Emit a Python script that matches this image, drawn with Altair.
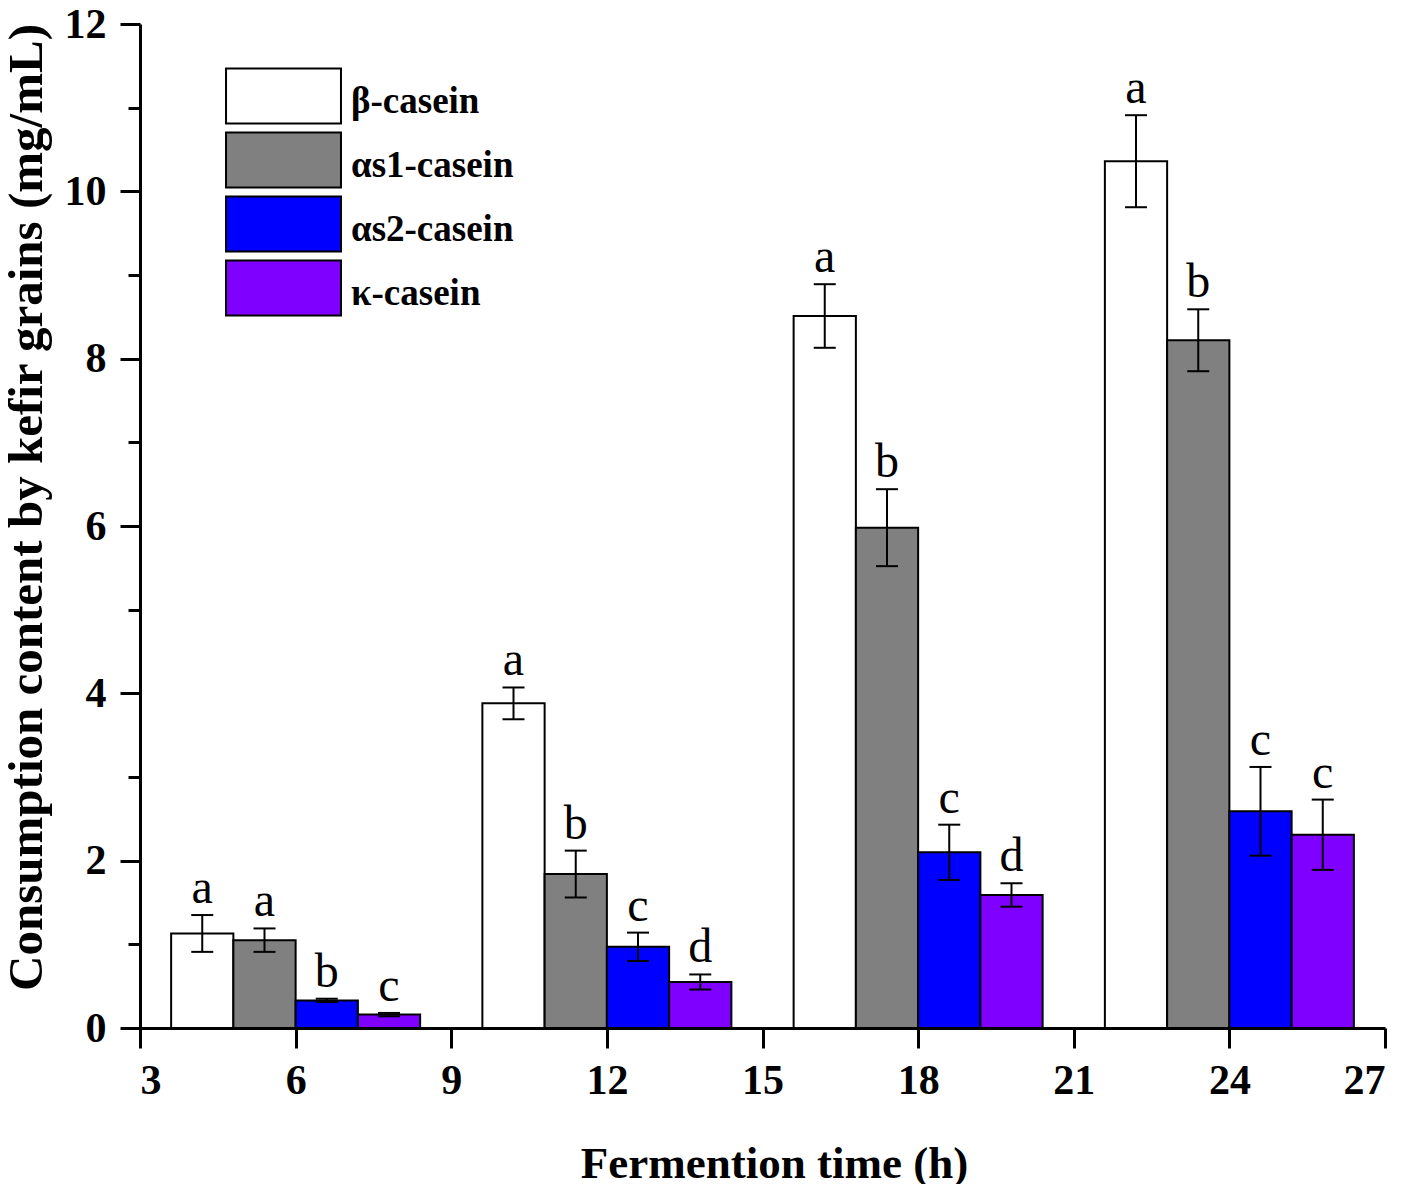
import altair as alt
import pandas as pd

# DATA ---------------------------------------------------
times = [6, 12, 18, 24]
caseins = ["β-casein", "αs1-casein", "αs2-casein", "κ-casein"]
colors = ["#ffffff", "#808080", "#0000ff", "#8000ff"]

beta_mean = [1.13, 3.88, 8.51, 10.36]
as1_mean = [1.05, 1.84, 5.98, 8.22]
as2_mean = [0.33, 0.97, 2.10, 2.59]
kappa_mean = [0.16, 0.55, 1.59, 2.31]

beta_sd = [0.22, 0.19, 0.38, 0.55]
as1_sd = [0.14, 0.28, 0.46, 0.37]
as2_sd = [0.02, 0.17, 0.33, 0.53]
kappa_sd = [0.02, 0.09, 0.14, 0.42]

beta_sig = ["a", "a", "a", "a"]
as1_sig = ["a", "b", "b", "b"]
as2_sig = ["b", "c", "c", "c"]
kappa_sig = ["c", "d", "d", "c"]

means = [beta_mean, as1_mean, as2_mean, kappa_mean]
sds = [beta_sd, as1_sd, as2_sd, kappa_sd]
sigs = [beta_sig, as1_sig, as2_sig, kappa_sig]

bar_w = 1.2  # hours per bar, 4 bars side by side
rows = []
for i, name in enumerate(caseins):
    for t, m, s, l in zip(times, means[i], sds[i], sigs[i]):
        mid = t + (i - 1.5) * bar_w
        rows.append(dict(casein=name, mid=mid, x0=mid - bar_w / 2, x1=mid + bar_w / 2,
                         mean=m, lo=m - s, hi=m + s, letter=l))
df = pd.DataFrame(rows)

# PLOTTING -----------------------------------------------
FONT = "Liberation Serif"
x_scale = alt.Scale(domain=[3, 27], nice=False, zero=False)
y_scale = alt.Scale(domain=[0, 12], nice=False)

x_axis = alt.Axis(values=list(range(3, 28, 3)), title="Fermention time (h)",
                  titleFontSize=45, titleX=634, titleY=149, titleBaseline="alphabetic",
                  labelPadding=12)
y_major = alt.Axis(values=[0, 2, 4, 6, 8, 10, 12], orient="left",
                   title="Consumption content by kefir grains (mg/mL)",
                   titleFontSize=49, titleX=-99, titleY=483, titleAngle=-90,
                   titleAlign="center", titleBaseline="alphabetic", labelPadding=14)
y_minor = alt.Axis(values=[1, 3, 5, 7, 9, 11], orient="left", title=None,
                   labels=False, domain=False, tickSize=12)

# box drawn a little above the label centre, as in the original key
legend = alt.Legend(title=None, orient="none", legendX=85, legendY=49, padding=0,
                    symbolType="M-2.09,-1.2H2.09V0.8H-2.09Z", symbolSize=3025,
                    symbolStrokeColor="black", symbolStrokeWidth=2, symbolOpacity=1,
                    labelFont=FONT, labelFontSize=37, labelFontWeight="bold",
                    labelColor="black", labelOffset=39, labelLimit=400,
                    symbolOffset=30, rowPadding=0)

bars = alt.Chart(df).mark_bar(stroke="black", strokeWidth=2, opacity=1).encode(
    x=alt.X("x0:Q", scale=x_scale, axis=x_axis),
    x2="x1:Q",
    y=alt.Y("mean:Q", scale=y_scale, axis=y_major),
    y2=alt.datum(0),
    fill=alt.Fill("casein:N", scale=alt.Scale(domain=caseins, range=colors), legend=legend),
)

errs = alt.Chart(df).mark_rule(color="black", strokeWidth=2).encode(
    x=alt.X("mid:Q", scale=x_scale),
    y=alt.Y("lo:Q", scale=y_scale, axis=y_minor),
    y2="hi:Q",
)

cap_lo = alt.Chart(df).mark_tick(orient="horizontal", size=22, thickness=2, color="black", opacity=1).encode(
    x=alt.X("mid:Q", scale=x_scale),
    y=alt.Y("lo:Q", scale=y_scale, axis=None),
)
cap_hi = cap_lo.encode(y=alt.Y("hi:Q", scale=y_scale, axis=None))

letters = alt.Chart(df).mark_text(font=FONT, fontSize=48, baseline="alphabetic", dy=-12, color="black").encode(
    x=alt.X("mid:Q", scale=x_scale),
    y=alt.Y("hi:Q", scale=y_scale, axis=None),
    text="letter:N",
)

chart = alt.layer(bars, errs, cap_lo, cap_hi, letters).resolve_axis(
    y="independent"
).properties(
    width=1245, height=1004,
    autosize=alt.AutoSizeParams(type="none"),
    padding={"left": 132, "top": 16, "right": 20, "bottom": 156},
).configure_view(
    stroke=None
).configure_axis(
    grid=False, labelFont=FONT, labelFontSize=42, labelFontWeight="bold", labelColor="black",
    titleFont=FONT, titleFontWeight="bold", titleColor="black",
    domainColor="black", domainWidth=3, tickColor="black", tickWidth=3, tickSize=20,
)

chart.save("out.html", embed_options={"renderer": "svg", "actions": False})
